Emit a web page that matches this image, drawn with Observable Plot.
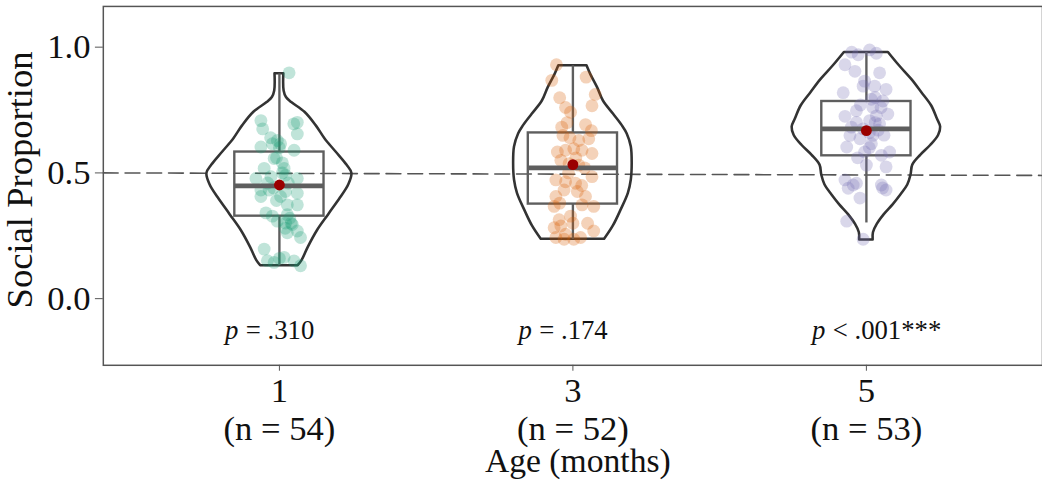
<!DOCTYPE html>
<html><head><meta charset="utf-8">
<script src="https://cdn.jsdelivr.net/npm/d3@7"></script>
<script src="https://cdn.jsdelivr.net/npm/@observablehq/plot@0.6"></script>
<style>html,body{margin:0;padding:0;background:#fff;overflow:hidden;} svg{display:block}</style>
</head><body><div id="chart"></div>
<script>
// ---- data ----
const ages = [1, 3, 5];
const groupPos = [1, 2, 3];
const nLabels = ["(n = 54)", "(n = 52)", "(n = 53)"];
const colors = ["#1B9E77", "#D95F02", "#7570B3"];
const q1 = [0.328, 0.376, 0.568];
const medians = [0.448, 0.520, 0.675];
const q3 = [0.583, 0.659, 0.784];
const whiskerLow = [0.131, 0.236, 0.301];
const whiskerHigh = [0.894, 0.926, 0.979];
const means = [0.452, 0.533, 0.668];
const pRelations = ["= .310", "= .174", "< .001***"];
const pLabelY = -0.127;
const refLine = [{x: 0.4, y: 0.5}, {x: 3.6, y: 0.49}];
const yTicks = [0, 0.5, 1];
const yDomain = [-0.265, 1.162];
const xDomain = [0.4, 3.6];
const boxHalf = 0.152;

// violin outlines: [value, half width in x units]
const violin1 = [[0.894,0.015],[0.826,0.016],[0.800,0.024],[0.780,0.042],[0.741,0.087],[0.688,0.125],[0.636,0.155],[0.583,0.193],[0.531,0.230],[0.498,0.247],[0.452,0.236],[0.400,0.208],[0.334,0.168],[0.269,0.129],[0.203,0.098],[0.151,0.077],[0.131,0.064]];
const violin2 = [[0.926,0.048],[0.891,0.061],[0.839,0.084],[0.786,0.104],[0.734,0.138],[0.688,0.168],[0.655,0.185],[0.603,0.199],[0.537,0.202],[0.472,0.199],[0.419,0.189],[0.354,0.165],[0.289,0.138],[0.236,0.108]];
const violin3 = [[0.979,0.075],[0.924,0.114],[0.871,0.155],[0.819,0.189],[0.767,0.222],[0.714,0.242],[0.682,0.253],[0.649,0.246],[0.609,0.219],[0.570,0.185],[0.531,0.158],[0.491,0.152],[0.452,0.141],[0.413,0.118],[0.373,0.091],[0.334,0.061],[0.295,0.037],[0.262,0.024],[0.233,0.023]];

// jittered points: [x jitter, value]
const points1 = [[0.033,0.898],[-0.063,0.708],[-0.057,0.675],[0.049,0.695],[0.061,0.701],[0.061,0.655],[-0.007,0.629],[0.004,0.616],[-0.024,0.616],[-0.063,0.603],[-0.018,0.557],[-0.052,0.518],[0.016,0.518],[0.021,0.491],[-0.029,0.485],[-0.080,0.478],[0.061,0.478],[-0.063,0.432],[-0.035,0.432],[0.021,0.426],[0.061,0.419],[-0.063,0.406],[0.004,0.406],[0.061,0.373],[0.027,0.373],[-0.046,0.341],[-0.024,0.328],[0.027,0.334],[-0.007,0.308],[0.021,0.301],[0.044,0.295],[0.061,0.269],[0.072,0.243],[0.027,0.262],[-0.052,0.197],[0.016,0.164],[-0.041,0.151],[-0.018,0.144],[0.072,0.131],[0.000,0.600],[-0.010,0.560],[0.010,0.540],[0.030,0.460],[-0.040,0.460],[0.040,0.300],[0.020,0.280],[-0.010,0.390],[0.050,0.590],[-0.030,0.640],[0.010,0.500],[-0.020,0.440],[0.035,0.320],[0.000,0.160],[0.050,0.150]];
const points2 = [[-0.056,0.930],[-0.072,0.868],[0.045,0.881],[0.076,0.812],[-0.045,0.799],[0.065,0.767],[-0.025,0.760],[-0.008,0.741],[-0.038,0.682],[0.043,0.692],[0.063,0.668],[-0.034,0.649],[0.054,0.636],[0.020,0.629],[0.003,0.596],[-0.025,0.590],[0.031,0.590],[0.065,0.577],[-0.053,0.583],[-0.041,0.550],[-0.013,0.537],[0.020,0.531],[0.065,0.485],[-0.058,0.472],[-0.025,0.465],[0.009,0.459],[-0.030,0.432],[-0.058,0.406],[0.015,0.426],[0.043,0.406],[-0.064,0.367],[0.031,0.373],[0.071,0.367],[-0.047,0.314],[-0.008,0.328],[-0.041,0.289],[-0.064,0.282],[0.071,0.269],[-0.025,0.256],[-0.058,0.243],[0.003,0.236],[0.026,0.243],[-0.030,0.236],[0.010,0.560],[-0.015,0.500],[0.040,0.520],[-0.010,0.640],[0.030,0.450],[-0.045,0.380],[0.000,0.300],[0.050,0.300],[-0.020,0.700]];
const points3 = [[0.011,0.989],[-0.028,0.970],[0.034,0.976],[-0.073,0.930],[-0.039,0.904],[0.045,0.898],[-0.006,0.865],[-0.011,0.845],[0.028,0.845],[0.067,0.832],[-0.079,0.819],[0.017,0.793],[0.056,0.786],[0.022,0.760],[-0.034,0.747],[-0.073,0.725],[0.073,0.734],[0.034,0.727],[0.011,0.708],[0.045,0.695],[-0.034,0.701],[-0.051,0.682],[-0.011,0.675],[0.022,0.649],[-0.056,0.649],[-0.022,0.636],[0.017,0.616],[-0.067,0.603],[-0.006,0.583],[0.079,0.583],[0.051,0.570],[0.000,0.531],[0.067,0.524],[-0.073,0.472],[-0.045,0.452],[-0.034,0.459],[-0.062,0.439],[0.051,0.452],[0.067,0.432],[-0.022,0.400],[-0.067,0.308],[-0.011,0.236],[0.030,0.700],[0.040,0.670],[0.010,0.660],[-0.020,0.770],[0.050,0.760],[-0.050,0.980],[0.010,0.600],[0.060,0.650],[-0.030,0.560],[0.030,0.800],[0.055,0.440]];

// ---- build tables ----
const violins = [violin1, violin2, violin3];
const pointSets = [points1, points2, points3];
const violinRows = violins.flatMap((vs, i) => vs.map(([v, hw]) => ({g: groupPos[i], v, hw})));
const pointRows = pointSets.flatMap((ps, i) => ps.map(([dx, v]) => ({g: groupPos[i], dx, v})));
const boxRows = groupPos.map((g, i) => ({g, q1: q1[i], med: medians[i], q3: q3[i], lo: whiskerLow[i], hi: whiskerHigh[i], mean: means[i], rel: pRelations[i], py: pLabelY}));

const serif = "'Liberation Serif', 'Times New Roman', Times, serif";
const fs = 35;

const chart = Plot.plot({
  width: 1054, height: 491,
  marginLeft: 104, marginRight: 0, marginTop: 6, marginBottom: 122,
  style: {fontFamily: serif, background: "white", color: "#111"},
  x: {domain: xDomain},
  y: {domain: yDomain},
  color: {domain: groupPos, range: colors},
  marks: [
    Plot.frame({stroke: "#555", strokeWidth: 1.5}),
    Plot.line(refLine, {x: "x", y: "y", stroke: "#555", strokeWidth: 1.6, strokeDasharray: "15,7"}),
    Plot.areaX(violinRows, {y: "v", x1: d => d.g - d.hw, x2: d => d.g + d.hw, z: "g", curve: "catmull-rom", fill: "none", stroke: "#333", strokeWidth: 2.6}),
    Plot.ruleX(boxRows, {x: "g", y1: "q3", y2: "hi", stroke: "#5e5e5e", strokeWidth: 2.4}),
    Plot.ruleX(boxRows, {x: "g", y1: "lo", y2: "q1", stroke: "#5e5e5e", strokeWidth: 2.4}),
    Plot.rect(boxRows, {x1: d => d.g - boxHalf, x2: d => d.g + boxHalf, y1: "q1", y2: "q3", fill: "none", stroke: "#5e5e5e", strokeWidth: 2.4}),
    Plot.dot(pointRows, {x: d => d.g + d.dx, y: "v", fill: "g", fillOpacity: 0.28, r: 6.5, stroke: "none"}),
    Plot.ruleY(boxRows, {y: "med", x1: d => d.g - boxHalf, x2: d => d.g + boxHalf, stroke: "#5e5e5e", strokeWidth: 4.8}),
    Plot.dot(boxRows, {x: "g", y: "mean", r: 5.5, fill: "#9a0000", stroke: "none"}),
    Plot.text(boxRows, {x: "g", y: "py", text: () => "p", fontStyle: "italic", textAnchor: "start", dx: -55, fontSize: 27, fill: "#111", fontFamily: serif}),
    Plot.text(boxRows, {x: "g", y: "py", text: "rel", textAnchor: "start", dx: -34, fontSize: 27, fill: "#111", fontFamily: serif}),
    Plot.axisY({ticks: yTicks, tickFormat: d3.format(".1f"), fontSize: fs, tickSize: 8, tickPadding: 5, label: null, stroke: "#555", fill: "#111"}),
    Plot.axisX({ticks: groupPos, tickFormat: (d, i) => `${ages[i]}\n${nLabels[i]}`, fontSize: fs, lineHeight: 1.09, tickSize: 6, tickPadding: 4, label: null, stroke: "#555", fill: "#111"}),
    Plot.text(["Age (months)"], {frameAnchor: "bottom", lineAnchor: "middle", textAnchor: "middle", dy: 97, dx: 5, fontSize: 34, fill: "#111", fontFamily: serif}),
    Plot.text(["Social Proportion"], {frameAnchor: "left", textAnchor: "middle", lineAnchor: "middle", dx: -84, dy: -6, rotate: -90, fontSize: 37, fill: "#111", fontFamily: serif})
  ]
});
document.getElementById("chart").appendChild(chart);
</script>
</body></html>
